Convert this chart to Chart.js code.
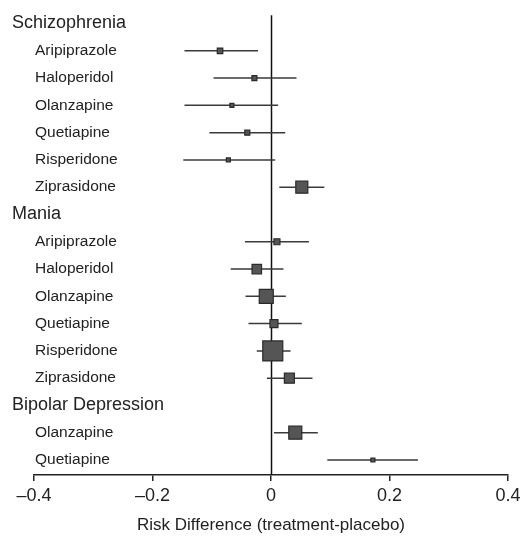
<!DOCTYPE html>
<html lang="en">
<head>
    <meta charset="UTF-8">
    <title>Risk Difference Forest Plot</title>
    <script src="https://cdn.jsdelivr.net/npm/chart.js"></script>
    <style>
        body {
            margin: 0;
            background-color: #ffffff;
        }
        .chart-container {
            width: 528px;
            height: 536px;
        }
    </style>
</head>
<body>
    <div class="chart-container">
        <canvas id="forest-chart"></canvas>
    </div>

    <script>
        // Data
        const drugGroup = [
            'Schizophrenia', 'Schizophrenia', 'Schizophrenia', 'Schizophrenia', 'Schizophrenia', 'Schizophrenia',
            'Mania', 'Mania', 'Mania', 'Mania', 'Mania', 'Mania',
            'Bipolar Depression', 'Bipolar Depression'
        ];
        const drugNames = [
            'Aripiprazole', 'Haloperidol', 'Olanzapine', 'Quetiapine', 'Risperidone', 'Ziprasidone',
            'Aripiprazole', 'Haloperidol', 'Olanzapine', 'Quetiapine', 'Risperidone', 'Ziprasidone',
            'Olanzapine', 'Quetiapine'
        ];
        const riskDiff = [-0.086, -0.028, -0.066, -0.040, -0.072, 0.052,
                          0.010, -0.024, -0.008, 0.005, 0.003, 0.031,
                          0.041, 0.172];
        const ciLower  = [-0.146, -0.097, -0.146, -0.104, -0.148, 0.014,
                          -0.044, -0.068, -0.043, -0.038, -0.024, -0.007,
                          0.005, 0.095];
        const ciUpper  = [-0.022, 0.043, 0.012, 0.024, 0.007, 0.090,
                          0.064, 0.021, 0.025, 0.052, 0.033, 0.070,
                          0.079, 0.248];
        const weights  = [5.5, 5, 4, 5, 4, 12,
                          6, 9.5, 14, 8, 20, 10,
                          13, 4];
        const xTicks = [-0.4, -0.2, 0, 0.2, 0.4];
        const axisTitle = 'Risk Difference (treatment-placebo)';

        // one row per group header, then one per drug
        const rows = [];
        let lastGroup = null;
        drugNames.forEach((name, i) => {
            if (drugGroup[i] !== lastGroup) {
                rows.push({ label: drugGroup[i], header: true });
                lastGroup = drugGroup[i];
            }
            rows.push({ label: name, header: false, idx: i });
        });

        const ciPoints = [];
        const estPoints = [];
        const estRadius = [];
        rows.forEach((r, y) => {
            if (r.header) return;
            ciPoints.push({ x: ciLower[r.idx], y: y });
            ciPoints.push({ x: ciUpper[r.idx], y: y });
            ciPoints.push({ x: null, y: null });
            estPoints.push({ x: riskDiff[r.idx], y: y });
            estRadius.push(weights[r.idx] / Math.SQRT2);
        });

        const rowLabels = {
            id: 'rowLabels',
            beforeDatasetsDraw(chart) {
                const { ctx, chartArea, scales: { x, y } } = chart;
                ctx.save();
                // zero reference line
                ctx.beginPath();
                ctx.strokeStyle = '#111';
                ctx.lineWidth = 1.5;
                const zx = Math.round(x.getPixelForValue(0)) + 0.5;
                ctx.moveTo(zx, chartArea.top);
                ctx.lineTo(zx, chartArea.bottom);
                ctx.stroke();

                ctx.fillStyle = '#222';
                ctx.textBaseline = 'middle';
                ctx.textAlign = 'left';
                rows.forEach((r, i) => {
                    const py = y.getPixelForValue(i);
                    if (r.header) {
                        ctx.font = '18px "Liberation Sans", Arial, sans-serif';
                        ctx.fillText(r.label, 12, py);
                    } else {
                        ctx.font = '15.5px "Liberation Sans", Arial, sans-serif';
                        ctx.fillText(r.label, 35, py);
                    }
                });
                ctx.restore();
            }
        };

        const ctx = document.getElementById('forest-chart').getContext('2d');
        new Chart(ctx, {
            type: 'scatter',
            data: {
                datasets: [
                    {
                        label: 'CI',
                        data: ciPoints,
                        showLine: true,
                        spanGaps: false,
                        borderColor: '#3a3a3a',
                        borderWidth: 1.5,
                        pointRadius: 0,
                        order: 2
                    },
                    {
                        label: 'Estimate',
                        data: estPoints,
                        pointStyle: 'rect',
                        pointRadius: estRadius,
                        pointHoverRadius: estRadius,
                        backgroundColor: '#555',
                        borderColor: '#2a2a2a',
                        borderWidth: 1.2,
                        order: 1
                    }
                ]
            },
            options: {
                responsive: true,
                maintainAspectRatio: false,
                animation: false,
                layout: {
                    padding: { top: 13, left: 34, right: 20, bottom: 0 }
                },
                plugins: {
                    legend: { display: false },
                    tooltip: { enabled: false }
                },
                scales: {
                    x: {
                        type: 'linear',
                        min: -0.4,
                        max: 0.4,
                        afterBuildTicks(scale) {
                            scale.ticks = xTicks.map(v => ({ value: v }));
                        },
                        grid: {
                            drawOnChartArea: false,
                            drawTicks: true,
                            tickLength: 6,
                            color: '#222',
                            lineWidth: 1.5
                        },
                        border: { display: true, color: '#222', width: 1.5 },
                        ticks: {
                            padding: 4,
                            color: '#222',
                            font: { family: '"Liberation Sans", Arial, sans-serif', size: 18 },
                            callback: v => v === 0 ? '0' : (v < 0 ? '\u2013' + Math.abs(v).toFixed(1) : v.toFixed(1))
                        },
                        title: {
                            display: true,
                            text: axisTitle,
                            color: '#222',
                            padding: { top: 5, bottom: 0 },
                            font: { family: '"Liberation Sans", Arial, sans-serif', size: 17 }
                        }
                    },
                    y: {
                        type: 'linear',
                        reverse: true,
                        min: -0.3,
                        max: 16.55,
                        display: false
                    }
                }
            },
            plugins: [rowLabels]
        });
    </script>
</body>
</html>
